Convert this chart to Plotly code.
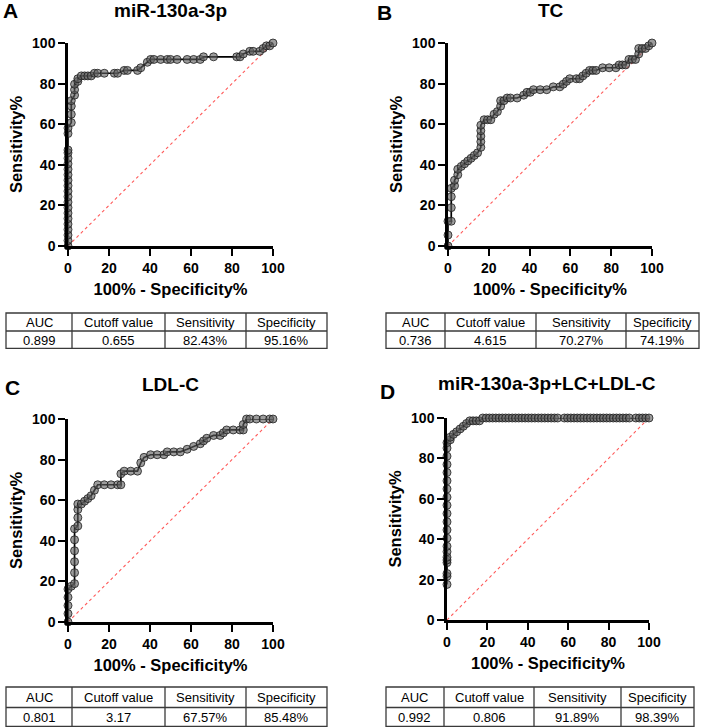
import plotly.graph_objects as go

W, H = 708, 728
FONT = "Arial, Liberation Sans, sans-serif"

# ---------------- data (100% - Specificity%, Sensitivity%) ----------------
a_fpr = [0, 0, 0, 0, 0, 0, 0, 0, 0, 0, 0, 0, 0, 0, 0, 0, 0, 0, 0, 0, 0,
         1.6, 1.6, 1.6, 1.6, 3.2, 3.2, 3.2, 4.8, 4.8, 6.5, 8.1, 9.7, 11.3, 12.9,
         14.5, 17.7, 22.6, 24.2, 27.4, 29.0, 33.9, 35.5, 38.7, 40.3, 41.9, 45.2,
         48.4, 50.0, 53.2, 58.1, 61.3, 64.5, 66.1, 71.0, 82.3, 83.9, 85.5, 88.7,
         90.3, 93.5, 95.2, 96.8, 98.4, 100]
a_sens = [0, 2.7, 5.4, 8.1, 10.8, 13.5, 16.2, 18.9, 21.6, 24.3, 27.0, 29.7, 32.4,
          35.1, 37.8, 40.5, 43.2, 45.9, 47.3, 55.4, 58.1,
          60.8, 64.9, 68.9, 71.6, 74.3, 77.0, 79.7, 81.1, 82.4, 83.8, 83.8, 83.8,
          83.8, 85.1, 85.1, 85.1, 85.1, 85.1, 86.5, 86.5, 86.5, 87.8, 90.5, 91.9,
          91.9, 91.9, 91.9, 91.9, 91.9, 91.9, 91.9, 91.9, 93.2, 93.2, 93.2, 93.2,
          94.6, 95.9, 95.9, 95.9, 97.3, 98.6, 98.6, 100]

b_fpr = [0, 0, 0, 1.6, 1.6, 1.6, 1.6, 3.2, 3.2, 4.8, 4.8, 6.5, 8.1, 9.7, 11.3,
         12.9, 14.5, 16.1, 16.1, 16.1, 16.1, 16.1, 17.7, 19.4, 21.0, 22.6, 24.2,
         25.8, 25.8, 27.4, 29.0, 30.6, 33.9, 37.1, 38.7, 40.3, 41.9, 45.2, 48.4,
         51.6, 54.8, 56.5, 58.1, 59.7, 62.9, 64.5, 66.1, 67.7, 69.4, 71.0, 72.6,
         75.8, 79.0, 82.3, 83.9, 85.5, 87.1, 88.7, 90.3, 91.9, 93.5, 93.5, 95.2,
         96.8, 98.4, 100]
b_sens = [0, 5.4, 12.2, 12.2, 18.9, 24.3, 28.4, 29.7, 32.4, 35.1, 37.8, 39.2,
          40.5, 41.9, 43.2, 44.6, 45.9, 48.6, 51.4, 54.1, 56.8, 59.5, 62.2, 62.2,
          62.2, 64.9, 66.2, 68.9, 71.6, 71.6, 72.9, 72.9, 72.9, 74.3, 75.7, 75.7,
          77.0, 77.0, 77.0, 78.4, 78.4, 79.7, 81.1, 82.4, 82.4, 82.4, 83.8, 85.1,
          86.5, 86.5, 86.5, 87.8, 87.8, 87.8, 89.2, 89.2, 89.2, 91.9, 91.9, 91.9,
          94.6, 97.3, 97.3, 97.3, 98.6, 100]

c_fpr = [0, 0, 0, 0, 0, 1.6, 3.2, 3.2, 3.2, 3.2, 3.2, 3.2, 4.8, 4.8, 4.8, 4.8,
         6.5, 8.1, 9.7, 11.3, 12.9, 14.5, 17.7, 21.0, 24.2, 25.8, 25.8, 27.4,
         30.6, 33.9, 35.5, 37.1, 40.3, 43.5, 46.8, 48.4, 51.6, 54.8, 58.1, 61.3,
         64.5, 66.1, 67.7, 71.0, 74.2, 75.8, 77.4, 80.6, 83.9, 85.5, 85.5, 87.1,
         88.7, 91.9, 95.2, 98.4, 100]
c_sens = [0, 4.1, 8.1, 12.2, 16.2, 17.6, 18.9, 24.3, 29.7, 35.1, 40.5, 45.9,
          47.3, 51.4, 55.4, 58.1, 58.1, 59.5, 60.8, 62.2, 64.9, 67.6, 67.6, 67.6,
          67.6, 67.6, 73.0, 74.3, 74.3, 74.3, 78.4, 81.1, 82.4, 82.4, 82.4, 83.8,
          83.8, 83.8, 85.1, 86.5, 87.8, 89.2, 90.5, 91.9, 91.9, 93.2, 94.6, 94.6,
          94.6, 94.6, 97.3, 100, 100, 100, 100, 100, 100]

d_fpr = [0, 0, 0, 0, 0, 0, 0, 0, 0, 0, 0, 0, 0, 0, 0, 0, 0, 0, 0, 0, 0,
         1.6, 1.6, 3.2, 4.8, 6.5, 8.1, 9.7, 11.3, 12.9, 14.5, 16.1,
         17.7, 19.4, 21.0, 22.6, 24.2, 25.8, 27.4, 29.0, 30.6, 32.3, 33.9, 35.5,
         37.1, 38.7, 40.3, 41.9, 43.5, 45.2, 46.8, 48.4, 50.0, 51.6, 53.2, 54.8,
         58.1, 59.7, 61.3, 62.9, 64.5, 66.1, 67.7, 69.4, 71.0, 72.6, 74.2, 75.8,
         77.4, 79.0, 80.6, 82.3, 83.9, 85.5, 87.1, 88.7, 90.3,
         93.5, 95.2, 96.8, 98.4, 100]
d_sens = [17.6, 21.6, 23.0, 28.4, 29.7, 31.1, 33.8, 36.5, 40.5, 44.6, 48.6,
          52.7, 56.8, 60.8, 64.9, 68.9, 73.0, 77.0, 81.1, 85.1, 87.8,
          89.2, 90.5, 91.9, 93.2, 94.6, 95.9, 97.3, 98.6, 98.6, 98.6, 98.6,
          100, 100, 100, 100, 100, 100, 100, 100, 100, 100, 100, 100,
          100, 100, 100, 100, 100, 100, 100, 100, 100, 100, 100, 100,
          100, 100, 100, 100, 100, 100, 100, 100, 100, 100, 100, 100,
          100, 100, 100, 100, 100, 100, 100, 100, 100,
          100, 100, 100, 100, 100]

diag_x = [0, 100]
diag_y = [0, 100]

panel_letters = ["A", "B", "C", "D"]
panel_titles = ["miR-130a-3p", "TC", "LDL-C", "miR-130a-3p+LC+LDL-C"]
tick_vals = [0, 20, 40, 60, 80, 100]
x_title = "100% - Specificity%"
y_title = "Sensitivity%"

table_header = ["AUC", "Cutoff value", "Sensitivity", "Specificity"]
table_a = ["0.899", "0.655", "82.43%", "95.16%"]
table_b = ["0.736", "4.615", "70.27%", "74.19%"]
table_c = ["0.801", "3.17", "67.57%", "85.48%"]
table_d = ["0.992", "0.806", "91.89%", "98.39%"]

# ---------------- layout helpers (pixel -> paper) ----------------
def fx(p):
    return p / W

def fy(p):
    return min(1.0, max(0.0, 1 - p / H))

# plot areas in pixels: (left, right, top, bottom)
areas = [(68, 273, 43, 246), (448, 652, 43, 246),
         (68, 273, 419, 622), (447, 649, 418, 620)]
series = [(a_fpr, a_sens), (b_fpr, b_sens), (c_fpr, c_sens), (d_fpr, d_sens)]
letter_pos = [(10, 11), (385, 12), (12, 387), (387, 391)]
title_pos = [(170, 11), (551, 11), (170, 384), (547, 383)]
# table geometry in pixels: column edges, row edges (top, mid, bottom)
tables = [
    ([6, 72, 165, 246, 327], [313, 331, 349], table_a),
    ([386, 445, 536, 626, 699], [313, 331, 349], table_b),
    ([6, 72, 165, 246, 327], [687, 707.5, 727], table_c),
    ([386, 444, 534, 621, 694], [687, 707.5, 727], table_d),
]

fig = go.Figure()
layout = dict(width=W, height=H, margin=dict(l=0, r=0, t=0, b=0),
              paper_bgcolor="white", plot_bgcolor="white", showlegend=False,
              font=dict(family=FONT, color="black"))
annotations = []
shapes = []

for i, ((l, r, t, b), (xs, ys)) in enumerate(zip(areas, series)):
    k = "" if i == 0 else str(i + 1)
    xa, ya = "x" + k, "y" + k
    fig.add_trace(go.Scatter(x=diag_x, y=diag_y, mode="lines", xaxis=xa, yaxis=ya,
                             line=dict(color="#ff5a5a", width=1.1, dash="dot"),
                             hoverinfo="skip", cliponaxis=False))
    fig.add_trace(go.Scatter(x=xs, y=ys, mode="lines+markers", xaxis=xa, yaxis=ya,
                             line=dict(color="black", width=1.7),
                             marker=dict(size=8, color="rgba(95,95,95,0.62)",
                                         line=dict(color="rgba(30,30,30,0.8)", width=1)),
                             cliponaxis=False))
    axcommon = dict(range=[0, 100], tickvals=tick_vals, showgrid=False, zeroline=False,
                    showline=True, linecolor="black", linewidth=2.5,
                    ticks="outside", ticklen=7, tickwidth=2, tickcolor="black",
                    tickfont=dict(size=14, family=FONT, weight="bold", color="black"),
                    automargin=False, fixedrange=True)
    layout["xaxis" + k] = dict(axcommon, domain=[fx(l), fx(r)], anchor=ya,
                               title=dict(text="<b>" + x_title + "</b>", standoff=9,
                                          font=dict(size=16.5, family=FONT)))
    layout["yaxis" + k] = dict(axcommon, domain=[fy(b), fy(t)], anchor=xa,
                               title=dict(text="<b>" + y_title + "</b>", standoff=6,
                                          font=dict(size=16.5, family=FONT)))
    lx, ly = letter_pos[i]
    annotations.append(dict(text="<b>" + panel_letters[i] + "</b>", x=fx(lx), y=fy(ly),
                            xref="paper", yref="paper", showarrow=False,
                            xanchor="center", yanchor="middle",
                            font=dict(size=21, family=FONT, color="black")))
    tx, ty = title_pos[i]
    annotations.append(dict(text="<b>" + panel_titles[i] + "</b>", x=fx(tx), y=fy(ty),
                            xref="paper", yref="paper", showarrow=False,
                            xanchor="center", yanchor="middle",
                            font=dict(size=19, family=FONT, color="black")))

# ---------------- tables (borders as shapes, cell text as annotations) ----------------
BORDER = dict(color="#3a3a3a", width=1.3)
for (cols, rows, vals) in tables:
    left, right = cols[0], cols[-1]
    top, mid, bottom = rows
    shapes.append(dict(type="rect", xref="paper", yref="paper",
                       x0=fx(left), x1=fx(right), y0=fy(bottom - 0.7), y1=fy(top),
                       line=BORDER, fillcolor="rgba(0,0,0,0)"))
    shapes.append(dict(type="line", xref="paper", yref="paper",
                       x0=fx(left), x1=fx(right), y0=fy(mid), y1=fy(mid), line=BORDER))
    for c in cols[1:-1]:
        shapes.append(dict(type="line", xref="paper", yref="paper",
                           x0=fx(c), x1=fx(c), y0=fy(bottom - 0.7), y1=fy(top), line=BORDER))
    for j in range(4):
        cx = (cols[j] + cols[j + 1]) / 2
        for row_text, cy in ((table_header[j], (top + mid) / 2 + 0.5),
                             (vals[j], (mid + bottom) / 2 + 0.5)):
            annotations.append(dict(text=row_text, x=fx(cx), y=fy(cy),
                                    xref="paper", yref="paper", showarrow=False,
                                    xanchor="center", yanchor="middle",
                                    font=dict(size=13, family=FONT, color="black")))

layout["annotations"] = annotations
layout["shapes"] = shapes
fig.update_layout(**layout)
fig.write_html("out.html", config={"displayModeBar": False},
               post_script="document.body.style.margin='0';")
